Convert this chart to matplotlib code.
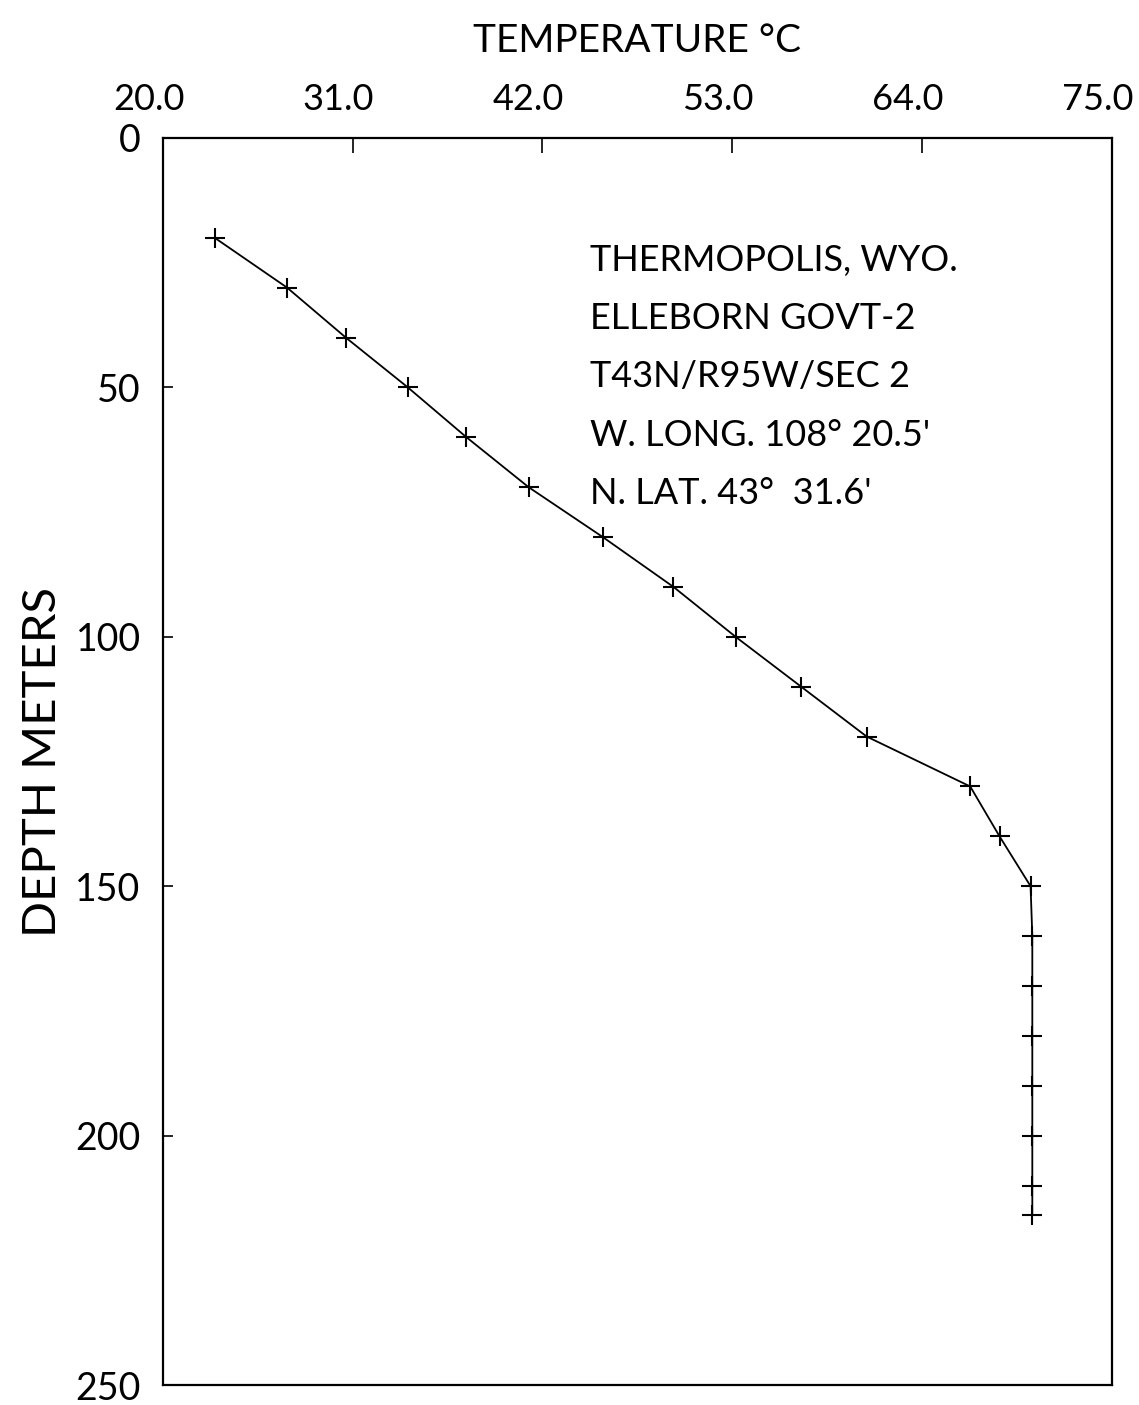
import numpy as np
import matplotlib
matplotlib.use('Agg')
import matplotlib.pyplot as plt
from matplotlib.transforms import ScaledTranslation

# temperature log, Thermopolis well
depth_m = [20, 30, 40, 50, 60, 70, 80, 90, 100, 110, 120, 130, 140,
           150, 160, 170, 180, 190, 200, 210, 216]
temp_c = [23.0, 27.2, 30.6, 34.2, 37.6, 41.2, 45.5, 49.6, 53.2, 57.0, 60.8,
          66.8, 68.5, 70.3, 70.4, 70.4, 70.4, 70.4, 70.4, 70.4, 70.4]

x_ticks = [20.0, 31.0, 42.0, 53.0, 64.0, 75.0]
y_ticks = [0, 50, 100, 150, 200, 250]

info_lines = ['THERMOPOLIS, WYO.', 'ELLEBORN GOVT-2', 'T43N/R95W/SEC 2',
              "W. LONG. 108° 20.5'", "N. LAT. 43°  31.6'"]

plt.rcParams['font.family'] = ['Lato', 'DejaVu Sans']

fig = plt.figure(figsize=(11.39, 14.05), dpi=100)
ax = fig.add_axes([0.143, 0.0142, 0.833, 0.8876])

ax.plot(temp_c, depth_m, color='black', linewidth=1.3,
        marker='+', markersize=14, markeredgewidth=1.5)

ax.set_xlim(20, 75)
ax.set_ylim(250, 0)
ax.xaxis.tick_top()
ax.xaxis.set_label_position('top')
ax.set_xticks(x_ticks)
ax.set_xticklabels(['%.1f' % t for t in x_ticks])
ax.set_yticks(y_ticks)
ax.tick_params(axis='x', direction='in', length=11, width=1.2, pad=16,
               labelsize=26)
ax.tick_params(axis='y', direction='in', length=7, width=1.2, pad=16,
               labelsize=27)
for s in ax.spines.values():
    s.set_linewidth(1.6)

# labels on the top axis sit a little left of their ticks
shift = ScaledTranslation(-14 / 100, 0, fig.dpi_scale_trans)
for lab in ax.get_xticklabels():
    lab.set_transform(lab.get_transform() + shift)

ax.set_xlabel('TEMPERATURE °C', fontsize=28, labelpad=22)
ax.set_ylabel('DEPTH METERS', fontsize=34, labelpad=8)

for i, line in enumerate(info_lines):
    ax.text(0.45, 0.902 - i * 0.0468, line, transform=ax.transAxes,
            fontsize=26, va='center', ha='left')

fig.savefig('out.png', dpi=100)
